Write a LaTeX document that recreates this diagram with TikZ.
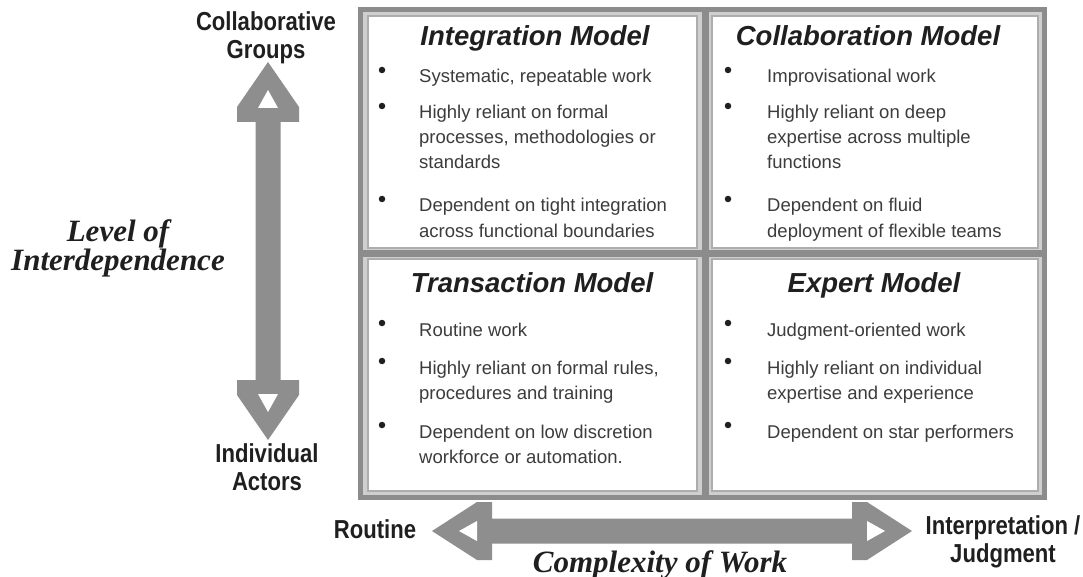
\documentclass[tikz,border=0pt]{standalone}
\usepackage{fontspec}
\setmainfont{Liberation Sans}
\newfontfamily\narrowsans[FakeStretch=0.85]{Liberation Sans}
\newfontfamily\axisserif{Liberation Serif}
\usetikzlibrary{positioning}

\definecolor{arrowgray}{HTML}{8E8E8E}
\definecolor{framegray}{HTML}{8C8C8C}
\definecolor{ringgray}{HTML}{CFCFCF}
\definecolor{boxline}{HTML}{ADADAD}
\definecolor{bodytext}{HTML}{3C3C3C}
\definecolor{titletext}{HTML}{1F1F1F}

\tikzset{
	quad/.style={draw=boxline, line width=2.5pt, fill=white, inner sep=0pt, minimum width=329pt, minimum height=232pt},
	modeltitle/.style={font=\fontsize{27.5}{30}\selectfont\bfseries\itshape, text=titletext, anchor=base, inner sep=0pt},
	entry/.style={font=\fontsize{18.5}{25}\selectfont, text=bodytext, anchor=base west, align=left, inner sep=0pt},
	bulletdot/.style={circle, fill=titletext, inner sep=0pt, minimum size=6.5pt},
	axislabel/.style={font=\narrowsans\bfseries\fontsize{26}{28}\selectfont, text=titletext, align=center, anchor=base, inner sep=0pt},
	axistitle/.style={font=\axisserif\bfseries\itshape\fontsize{31}{28.5}\selectfont, text=titletext, align=center, anchor=base, inner sep=0pt},
	fat/.style={fill=arrowgray},
	hole/.style={fill=white}
}

\begin{document}
\begin{tikzpicture}[x=1pt,y=-1pt]
	\useasboundingbox (0,0) rectangle (1083,577);

	\draw[framegray, line width=5pt, fill=ringgray] (360.5,9.5) rectangle (1044.5,497.5);
	\draw[framegray, line width=7pt] (705,12) -- (705,495);
	\draw[framegray, line width=7pt] (363,253.5) -- (1042,253.5);

	\node[quad] (integ) at (532.5,132) {};
	\node[quad, minimum width=326pt] (collab) at (875,132) {};
	\node[quad] (trans) at (532.5,375) {};
	\node[quad, minimum width=326pt] (expert) at (875,375) {};

	\node[modeltitle] (integt) at (535,46) {Integration Model};
	\node[modeltitle] (collabt) at (868,46) {Collaboration Model};
	\node[modeltitle] (transt) at (532,292) {Transaction Model};
	\node[modeltitle] (expertt) at (874,292) {Expert Model};

	\begin{scope}[every node/.style={entry}]
		\node (i1) at (419,83) {Systematic, repeatable work};
		\node (i2) at (419,169) {Highly reliant on formal\\processes, methodologies or\\standards};
		\node (i3) at (419,237) {Dependent on tight integration\\across functional boundaries};
		\node (c1) at (767,83) {Improvisational work};
		\node (c2) at (767,169) {Highly reliant on deep\\expertise across multiple\\functions};
		\node (c3) at (767,237) {Dependent on fluid\\deployment of flexible teams};
		\node (t1) at (419,336) {Routine work};
		\node (t2) at (419,399) {Highly reliant on formal rules,\\procedures and training};
		\node (t3) at (419,463) {Dependent on low discretion\\workforce or automation.};
		\node (e1) at (767,336) {Judgment-oriented work};
		\node (e2) at (767,399) {Highly reliant on individual\\expertise and experience};
		\node (e3) at (767,438) {Dependent on star performers};
	\end{scope}

	\begin{scope}[every node/.style={bulletdot}]
		\node (bi1) at (382,70) {};
		\node (bi2) at (382,106) {};
		\node (bi3) at (382,199) {};
		\node (bc1) at (728,70) {};
		\node (bc2) at (728,106) {};
		\node (bc3) at (728,199) {};
		\node (bt1) at (382,323) {};
		\node (bt2) at (382,361) {};
		\node (bt3) at (382,425) {};
		\node (be1) at (728,323) {};
		\node (be2) at (728,361) {};
		\node (be3) at (728,425) {};
	\end{scope}

	\coordinate (vtop) at (268,62);
	\coordinate (hleft) at (432,531);

	\begin{scope}[shift={(vtop)}, rotate=-90]
		\fill[fat] (0,0) -- (45,31) -- (60,31) -- (60,12.5) -- (318,12.5) -- (318,31) -- (333,31) -- (378,0)
			-- (333,-31) -- (318,-31) -- (318,-12.5) -- (60,-12.5) -- (60,-31) -- (45,-31) -- cycle;
		\fill[hole] (28,0) -- (46,10) -- (46,-10) -- cycle;
		\fill[hole] (350,0) -- (332,10) -- (332,-10) -- cycle;
	\end{scope}

	\begin{scope}[shift={(hleft)}]
		\fill[fat] (0,0) -- (45,29) -- (60,29) -- (60,12.5) -- (420,12.5) -- (420,29) -- (435,29) -- (480,0)
			-- (435,-29) -- (420,-29) -- (420,-12.5) -- (60,-12.5) -- (60,-29) -- (45,-29) -- cycle;
		\fill[hole] (27,0) -- (45,10) -- (45,-10) -- cycle;
		\fill[hole] (453,0) -- (435,10) -- (435,-10) -- cycle;
	\end{scope}

	\node[axislabel] (groups) at (266,59) {Collaborative\\Groups};
	\node[axislabel] (actors) at (267,490) {Individual\\Actors};
	\node[axislabel] (routine) at (375,538) {Routine};
	\node[axislabel] (judgment) at (1003,562) {Interpretation /\\Judgment};
	\node[axistitle] (interdep) at (118,270) {Level of\\Interdependence};
	\node[axistitle] (complexity) at (660,572) {Complexity of Work};
\end{tikzpicture}
\end{document}
